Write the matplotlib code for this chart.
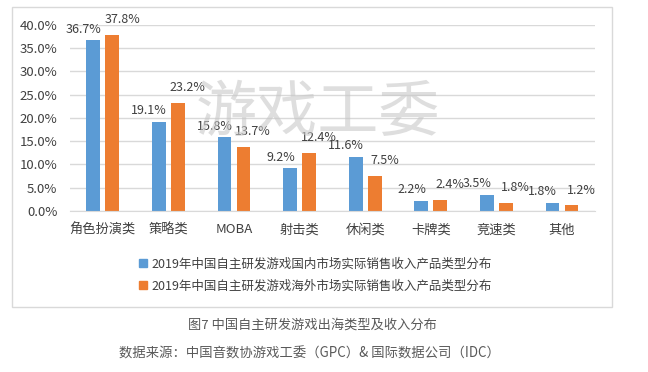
import numpy as np
import matplotlib
matplotlib.use("Agg")
from matplotlib import pyplot as plt
from matplotlib.patches import Rectangle, Patch
from matplotlib.ticker import FuncFormatter

plt.rcParams["font.family"] = ["Noto Sans CJK SC", "DejaVu Sans"]

categories = ["角色扮演类", "策略类", "MOBA", "射击类", "休闲类", "卡牌类", "竞速类", "其他"]
domestic = [36.7, 19.1, 15.8, 9.2, 11.6, 2.2, 3.5, 1.8]
overseas = [37.8, 23.2, 13.7, 12.4, 7.5, 2.4, 1.8, 1.2]
series_names = [
    "2019年中国自主研发游戏国内市场实际销售收入产品类型分布",
    "2019年中国自主研发游戏海外市场实际销售收入产品类型分布",
]
caption = "图7 中国自主研发游戏出海类型及收入分布"
source = "数据来源：中国音数协游戏工委（GPC）& 国际数据公司（IDC）"

BLUE = "#5B9BD5"
ORANGE = "#ED7D31"
TEXT = "#404040"

fig = plt.figure(figsize=(6.48, 3.72), dpi=100)
ax = fig.add_axes([0.108, 0.433, 0.81, 0.50])

# chart frame
fig.patches.append(Rectangle((12 / 648, 1 - 307 / 372), 600 / 648, 300 / 372,
                             transform=fig.transFigure, fill=False,
                             edgecolor="#D9D9D9", linewidth=1.0, zorder=0))

x = np.arange(len(categories))
w = 0.21
off = 0.145
b1 = ax.bar(x - off, domestic, w, color=BLUE, zorder=2)
b2 = ax.bar(x + off, overseas, w, color=ORANGE, zorder=2)

for rect, v in zip(b1, domestic):
    ax.annotate(f"{v:.1f}%", (rect.get_x() + rect.get_width() / 2, v),
                xytext=(-7, 8), textcoords="offset points",
                ha="center", va="center", fontsize=9, color=TEXT)
for rect, v in zip(b2, overseas):
    ax.annotate(f"{v:.1f}%", (rect.get_x() + rect.get_width() / 2, v),
                xytext=(7, 11), textcoords="offset points",
                ha="center", va="center", fontsize=9, color=TEXT)

ax.set_xlim(-0.5, len(categories) - 0.5)
ax.set_ylim(0, 40)
ax.set_yticks(np.arange(0, 41, 5))
ax.yaxis.set_major_formatter(FuncFormatter(lambda v, p: f"{v:.1f}%"))
ax.set_xticks(x)
ax.set_xticklabels(categories)
ax.tick_params(axis="both", length=0, labelsize=9.5, colors=TEXT)
ax.tick_params(axis="y", pad=9)
ax.tick_params(axis="x", pad=9)
ax.grid(axis="y", color="#D9D9D9", linewidth=1.0, zorder=0)
for s in ["top", "right", "left"]:
    ax.spines[s].set_visible(False)
ax.spines["bottom"].set_color("#D9D9D9")

# watermark
fig.text(0.49, 1 - 114 / 372, "游戏工委", fontsize=44, color="#C8C8C8",
         alpha=0.6, ha="center", va="center", zorder=1)

handles = [Patch(color=BLUE), Patch(color=ORANGE)]
fig.legend(handles, series_names, loc="center", bbox_to_anchor=(0.487, 1 - 275 / 372),
           frameon=False, fontsize=9, handlelength=0.6, handleheight=0.6,
           handletextpad=0.4, labelspacing=0.75, labelcolor=TEXT)

fig.text(0.482, 1 - 325 / 372, caption, fontsize=9.5, color="#595959",
         ha="center", va="center")
fig.text(0.477, 1 - 354 / 372, source, fontsize=9.6, color="#595959",
         ha="center", va="center")

fig.savefig("out.png", dpi=100)
